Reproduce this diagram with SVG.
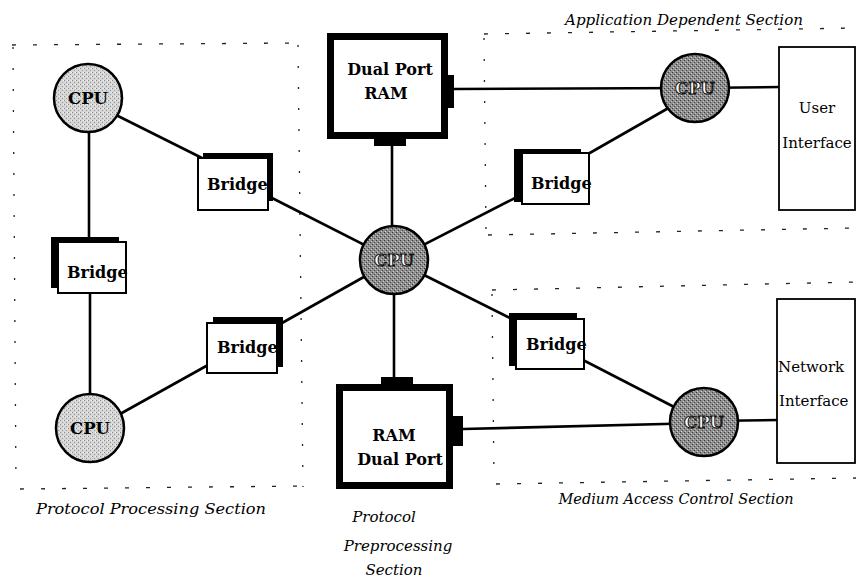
<svg xmlns="http://www.w3.org/2000/svg" width="856" height="580" viewBox="0 0 856 580">
<defs>
<pattern id="stipL" width="4" height="4" patternUnits="userSpaceOnUse">
<rect width="4" height="4" fill="#d6d6d6"/>
<rect x="0" y="0" width="1" height="1" fill="#8a8a8a"/>
<rect x="2" y="2" width="1" height="1" fill="#9a9a9a"/>
<rect x="3" y="0" width="1" height="1" fill="#f2f2f2"/>
</pattern>
<pattern id="stipD" width="4" height="4" patternUnits="userSpaceOnUse">
<rect width="4" height="4" fill="#8e8e8e"/>
<rect x="0" y="0" width="1" height="1" fill="#3a3a3a"/>
<rect x="2" y="2" width="1" height="1" fill="#444"/>
<rect x="1" y="3" width="1" height="1" fill="#d0d0d0"/>
<rect x="3" y="1" width="1" height="1" fill="#c4c4c4"/>
</pattern>
</defs>
<style>
.sec{fill:none;stroke:#222;stroke-width:1.3;stroke-dasharray:4 17}
.secv{fill:none;stroke:#222;stroke-width:1.3;stroke-dasharray:2 19}
.con{stroke:#000;stroke-width:2.6;fill:none}
.cpuL{fill:url(#stipL);stroke:#000;stroke-width:2.5}
.cpuD{fill:url(#stipD);stroke:#000;stroke-width:2.5}
.shadow{fill:#000}
.box{fill:#fff;stroke:#000;stroke-width:2}
.ram{fill:#fff;stroke:#000;stroke-width:7}
.iface{fill:#fff;stroke:#000;stroke-width:1.8}
.bold{font-family:"DejaVu Serif","Liberation Serif",serif;font-weight:bold;font-size:16px;fill:#000}
.cpuT{font-family:"DejaVu Serif","Liberation Serif",serif;font-weight:bold;font-size:16.5px;text-anchor:middle;fill:#000}
.cpuTD{font-family:"DejaVu Serif","Liberation Serif",serif;font-weight:bold;font-size:16.5px;text-anchor:middle;fill:#fff;stroke:#111;stroke-width:1}
.reg{font-family:"DejaVu Serif","Liberation Serif",serif;font-size:15px;fill:#000}
.ital{font-family:"DejaVu Serif","Liberation Serif",serif;font-style:italic;font-size:15px;fill:#000}
</style>
<rect width="856" height="580" fill="#fff"/>

<g id="sections">
<path class="sec" d="M12,45 L298,43"/>
<path class="secv" d="M13,47 L16,487"/>
<path class="secv" d="M298,45 L303,487"/>
<path class="sec" d="M20,489 L303,486"/>
<path class="sec" d="M484,34 L856,28"/>
<path class="secv" d="M484,38 L486,232"/>
<path class="sec" d="M488,235 L856,228"/>
<path class="sec" d="M492,290 L856,282"/>
<path class="secv" d="M492,294 L494,480"/>
<path class="sec" d="M496,484 L856,478"/>
</g>

<g id="connectors">
<line class="con" x1="116" y1="115" x2="202" y2="158"/>
<line class="con" x1="89" y1="130" x2="89" y2="238"/>
<line class="con" x1="90" y1="293" x2="90" y2="396"/>
<line class="con" x1="120" y1="414" x2="208" y2="365"/>
<line class="con" x1="272" y1="198" x2="394" y2="260"/>
<line class="con" x1="282" y1="323" x2="394" y2="260"/>
<line class="con" x1="392" y1="146" x2="392" y2="260"/>
<line class="con" x1="394" y1="260" x2="394" y2="378"/>
<line class="con" x1="394" y1="260" x2="515" y2="198"/>
<line class="con" x1="394" y1="260" x2="510" y2="318"/>
<line class="con" x1="454" y1="89" x2="695" y2="88"/>
<line class="con" x1="695" y1="88" x2="780" y2="87"/>
<line class="con" x1="588" y1="154" x2="672" y2="106"/>
<line class="con" x1="583" y1="360" x2="680" y2="410"/>
<line class="con" x1="463" y1="429" x2="704" y2="423"/>
<line class="con" x1="704" y1="421" x2="778" y2="420"/>
</g>

<g id="cpu-tl">
<circle class="cpuL" cx="88" cy="98" r="34"/>
<text class="cpuT" x="88" y="104">CPU</text>
</g>
<g id="cpu-bl">
<circle class="cpuL" cx="90" cy="428" r="34"/>
<text class="cpuT" x="90" y="434">CPU</text>
</g>
<g id="cpu-center">
<circle class="cpuD" cx="394" cy="260" r="34"/>
<text class="cpuTD" x="394" y="266">CPU</text>
</g>
<g id="cpu-tr">
<circle class="cpuD" cx="695" cy="88" r="34"/>
<text class="cpuTD" x="695" y="94">CPU</text>
</g>
<g id="cpu-br">
<circle class="cpuD" cx="704" cy="422" r="34"/>
<text class="cpuTD" x="704" y="428">CPU</text>
</g>

<g id="bridge-tl">
<rect class="shadow" x="203" y="153" width="70" height="48"/>
<rect class="box" x="198" y="158" width="70" height="52"/>
<text class="bold" x="207" y="190">Bridge</text>
</g>
<g id="bridge-ml">
<rect class="shadow" x="51" y="237" width="68" height="51"/>
<rect class="box" x="58" y="242" width="68" height="51"/>
<text class="bold" x="67" y="278">Bridge</text>
</g>
<g id="bridge-lm">
<rect class="shadow" x="213" y="317" width="70" height="50"/>
<rect class="box" x="207" y="323" width="70" height="50"/>
<text class="bold" x="217" y="353">Bridge</text>
</g>
<g id="bridge-tr">
<rect class="shadow" x="514" y="149" width="67" height="53"/>
<rect class="box" x="522" y="153" width="67" height="51"/>
<text class="bold" x="531" y="189">Bridge</text>
</g>
<g id="bridge-lr">
<rect class="shadow" x="509" y="313" width="68" height="53"/>
<rect class="box" x="516" y="319" width="68" height="50"/>
<text class="bold" x="526" y="350">Bridge</text>
</g>

<g id="ram-top">
<rect class="shadow" x="445" y="75" width="9" height="33"/>
<rect class="shadow" x="374" y="136" width="32" height="10"/>
<rect class="ram" x="330.5" y="36.5" width="114" height="99"/>
<text class="bold" x="390" y="75" text-anchor="middle">Dual Port</text>
<text class="bold" x="386" y="99" text-anchor="middle">RAM</text>
</g>
<g id="ram-bottom">
<rect class="shadow" x="381" y="377" width="32" height="9"/>
<rect class="shadow" x="451" y="416" width="12" height="30"/>
<rect class="ram" x="339.5" y="387.5" width="110" height="98"/>
<text class="bold" x="394" y="441" text-anchor="middle">RAM</text>
<text class="bold" x="400" y="465" text-anchor="middle">Dual Port</text>
</g>

<g id="user-interface">
<rect class="iface" x="779" y="47" width="76" height="163"/>
<text class="reg" x="817" y="113" text-anchor="middle">User</text>
<text class="reg" x="817" y="148" text-anchor="middle">Interface</text>
</g>
<g id="network-interface">
<rect class="iface" x="777" y="299" width="78" height="164"/>
<text class="reg" x="778" y="372">Network</text>
<text class="reg" x="779" y="406">Interface</text>
</g>

<g id="labels">
<text class="ital" x="684" y="25" text-anchor="middle" textLength="238" lengthAdjust="spacingAndGlyphs">Application Dependent Section</text>
<text class="ital" x="151" y="514" text-anchor="middle" textLength="230" lengthAdjust="spacingAndGlyphs">Protocol Processing Section</text>
<text class="ital" x="676" y="504" text-anchor="middle" textLength="235" lengthAdjust="spacingAndGlyphs">Medium Access Control Section</text>
<text class="ital" x="384" y="522" text-anchor="middle">Protocol</text>
<text class="ital" x="398" y="551" text-anchor="middle">Preprocessing</text>
<text class="ital" x="394" y="575" text-anchor="middle">Section</text>
</g>
</svg>
